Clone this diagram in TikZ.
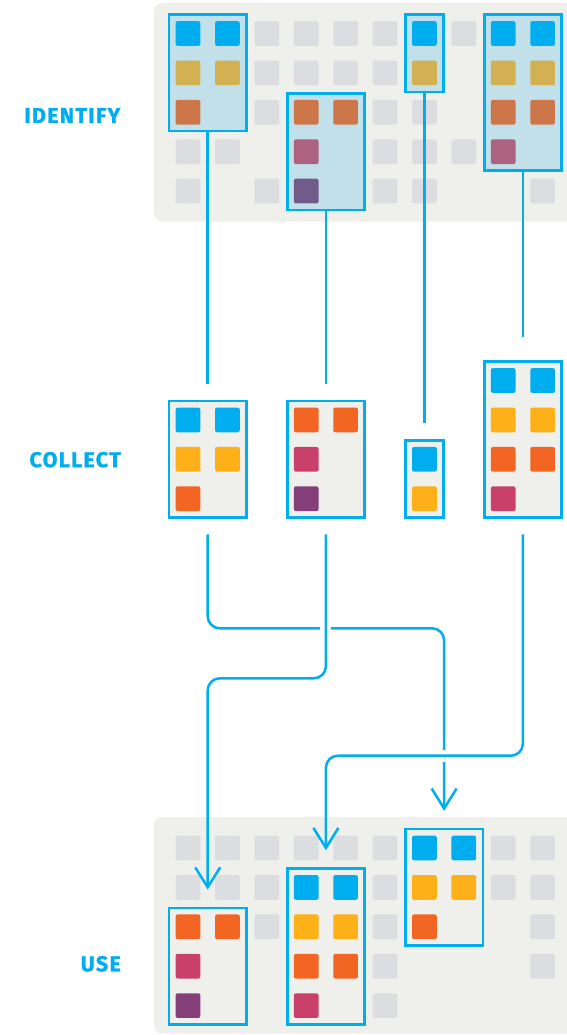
\documentclass[tikz,border=0pt]{standalone}
\usepackage{fontspec}
\newfontfamily\stagefont[LetterSpace=6, BoldFeatures={FakeBold=1.2}]{Fira Sans}
\usetikzlibrary{
  arrows.meta,
  calc
}
\definecolor{flowblue}{HTML}{00AEEF}
\definecolor{tray}{HTML}{EFF0EB}
\definecolor{pickfill}{HTML}{C1E0EA}
\definecolor{gry}{HTML}{DCDDE0}
\definecolor{bl}{HTML}{00AEEF}
\definecolor{ye}{HTML}{FDB017}
\definecolor{og}{HTML}{F26522}
\definecolor{pk}{HTML}{C9416B}
\definecolor{pu}{HTML}{843F79}
\definecolor{mye}{HTML}{D3B152}
\definecolor{mog}{HTML}{CD7649}
\definecolor{mpk}{HTML}{AD6280}
\definecolor{mpu}{HTML}{705B8B}
\tikzset{
  cell/.style={minimum size=24.7pt, inner sep=0pt, rounded corners=2pt},
  box/.style={draw=flowblue, line width=2.5pt, inner sep=0pt},
  pick/.style={box, fill=pickfill},
  bin/.style={box, fill=tray},
  link/.style={draw=flowblue, line width=2.5pt, rounded corners=12pt},
  arrive/.style={-{Straight Barb[length=20pt, width=25pt]}},
  hop/.style={fill=white, inner sep=0pt},
  stage/.style={text=flowblue, anchor=east, inner sep=0pt,
    font=\stagefont\bfseries\fontsize{21.5}{24}\selectfont}
  }

\begin{document}
\begin{tikzpicture}[x=1pt, y=-1pt]
  \useasboundingbox (0,0) rectangle (566,1035);
  % panels
  \fill[tray, rounded corners=8pt] (154,3) rectangle (600,221.5);
  \fill[tray, rounded corners=8pt] (154,817) rectangle (600,1033.5);

  % labels
  \node[stage] (identify) at (120.5,115.5) {IDENTIFY};
  \node[stage] (collect) at (121,459.7) {COLLECT};
  \node[stage] (use) at (121,963.8) {USE};

  % boxes
  \node[pick, minimum width=77.3pt, minimum height=116.6pt] (idA) at (207.7,72.9) {};
  \node[pick, minimum width=77.3pt, minimum height=116.6pt] (idB) at (325.9,151.7) {};
  \node[pick, minimum width=38.1pt, minimum height=77.2pt] (idC) at (424.4,53.2) {};
  \node[pick, minimum width=77.3pt, minimum height=156pt] (idD) at (522.9,92.6) {};

  \node[bin, minimum width=77.3pt, minimum height=116.6pt] (coA) at (207.7,459.3) {};
  \node[bin, minimum width=77.3pt, minimum height=116.6pt] (coB) at (325.9,459.3) {};
  \node[bin, minimum width=38.1pt, minimum height=77.2pt] (coC) at (424.4,479) {};
  \node[bin, minimum width=77.3pt, minimum height=156pt] (coD) at (522.9,439.6) {};

  \node[bin, minimum width=77.3pt, minimum height=116.6pt] (usA) at (207.7,966.2) {};
  \node[bin, minimum width=77.3pt, minimum height=156pt] (usB) at (325.9,946.5) {};
  \node[bin, minimum width=77.3pt, minimum height=116.6pt] (usC) at (444.1,887.4) {};

  % cells
  \foreach \row [count=\r from 0] in {
      {bl,bl,gry,gry,gry,gry,bl,gry,bl,bl},
      {mye,mye,gry,gry,gry,gry,mye,none,mye,mye},
      {mog,none,gry,mog,mog,gry,gry,none,mog,mog},
      {gry,gry,none,mpk,none,gry,gry,gry,mpk,none},
      {gry,none,gry,mpu,none,gry,gry,none,none,gry}}
    \foreach \f [count=\c from 0] in \row
      \node[cell, fill=\f] (id-\r-\c) at (188+39.4*\c, 33.5+39.4*\r) {};
  \foreach \row [count=\r from 0] in {
      {none,none,none,none,none,none,none,none,bl,bl},
      {bl,bl,none,og,og,none,none,none,ye,ye},
      {ye,ye,none,pk,none,none,bl,none,og,og},
      {og,none,none,pu,none,none,ye,none,pk,none}}
    \foreach \f [count=\c from 0] in \row
      \node[cell, fill=\f] (co-\r-\c) at (188+39.4*\c, 380.5+39.4*\r) {};
  \foreach \row [count=\r from 0] in {
      {gry,gry,gry,gry,gry,gry,bl,bl,gry,gry},
      {gry,gry,gry,bl,bl,gry,ye,ye,gry,gry},
      {og,og,gry,ye,ye,gry,og,none,none,gry},
      {pk,none,none,og,og,gry,none,none,none,gry},
      {pu,none,none,pk,none,gry,none,none,none,none}}
    \foreach \f [count=\c from 0] in \row
      \node[cell, fill=\f] (us-\r-\c) at (188+39.4*\c, 848+39.4*\r) {};

  % identify -> collect
  \draw[link, shorten >=15.7pt] (idA.south) -- (coA.north);
  \draw[link, shorten >=15.7pt] (idB.south) -- (coB.north);
  \draw[link, shorten >=15.7pt] (idC.south) -- (coC.north);
  \draw[link, shorten >=23.5pt] (idD.south) -- (coD.north);

  % collect -> use
  \coordinate (levA) at (0,628.3);
  \coordinate (levB) at (0,678.3);
  \coordinate (levD) at (0,755.7);
  \draw[link, arrive, shorten <=15.6pt, shorten >=17pt]
    (coA.south) -- (coA.south |- levA) -- (usC.north |- levA) -- (usC.north);
  \node[hop, minimum width=11pt, minimum height=5pt] (hopAB) at (coB.south |- levA) {};
  \node[hop, minimum width=5pt, minimum height=12pt] (hopDA) at (usC.north |- levD) {};
  \draw[link, arrive, shorten <=15.6pt, shorten >=17pt]
    (coB.south) -- (coB.south |- levB) -- (usA.north |- levB) -- (usA.north);
  \draw[link, arrive, shorten <=15.6pt, shorten >=17pt]
    (coD.south) -- (coD.south |- levD) -- (usB.north |- levD) -- (usB.north);
\end{tikzpicture}
\end{document}
